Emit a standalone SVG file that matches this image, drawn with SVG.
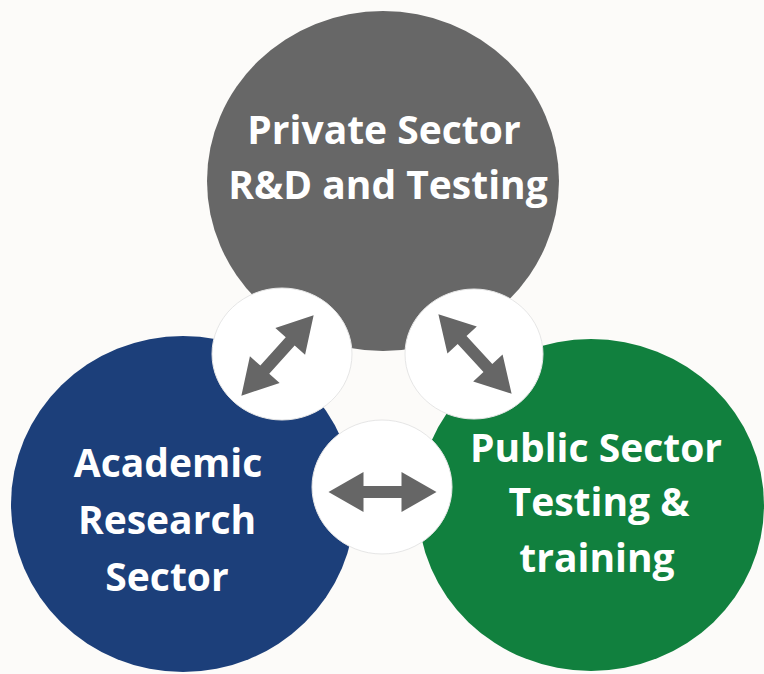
<svg xmlns="http://www.w3.org/2000/svg" width="764" height="674" viewBox="0 0 764 674">
<style>
.lbl{font-family:"Open Sans","Noto Sans","Liberation Sans",sans-serif;font-weight:bold;font-size:39px;fill:#ffffff;text-anchor:middle}
.hub{fill:#ffffff;stroke:#e6e6e6;stroke-width:1}
.arr{fill:#666666}
</style>
<defs>
<polygon id="dbl" points="-54,0 -19,-20 -19,-6 19,-6 19,-20 54,0 19,20 19,6 -19,6 -19,20"/>
</defs>
<rect width="764" height="674" fill="#fcfbf9"/>
<g id="private">
<ellipse cx="383" cy="181" rx="176" ry="170" fill="#676767"/>
<text class="lbl" x="384" y="144">Private Sector</text>
<text class="lbl" x="388" y="199">R&amp;D and Testing</text>
</g>
<g id="academic">
<ellipse cx="183" cy="504" rx="172" ry="168" fill="#1c3f7a"/>
<text class="lbl" x="168" y="477">Academic</text>
<text class="lbl" x="167" y="534">Research</text>
<text class="lbl" x="167" y="591">Sector</text>
</g>
<g id="public">
<ellipse cx="591" cy="505" rx="173" ry="166" fill="#11803e"/>
<text class="lbl" x="596" y="462">Public Sector</text>
<text class="lbl" x="599" y="516">Testing &amp;</text>
<text class="lbl" x="597" y="572">training</text>
</g>
<g id="connectors">
<g id="link-private-academic">
<ellipse class="hub" cx="282" cy="354" rx="70" ry="66"/>
<use href="#dbl" class="arr" transform="translate(277.5,355.5) rotate(-48)"/>
</g>
<g id="link-private-public">
<ellipse class="hub" cx="474" cy="354" rx="69" ry="65"/>
<use href="#dbl" class="arr" transform="translate(475,354) rotate(47.3)"/>
</g>
<g id="link-academic-public">
<ellipse class="hub" cx="382" cy="487" rx="70" ry="67"/>
<use href="#dbl" class="arr" transform="translate(382.5,492)"/>
</g>
</g>
</svg>
